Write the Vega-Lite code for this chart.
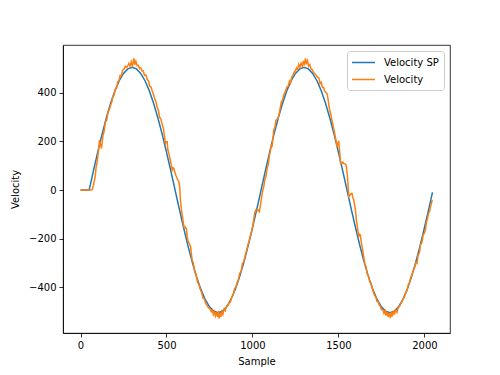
{
  "$schema": "https://vega.github.io/schema/vega-lite/v6.json",
  "width": 387,
  "height": 288,
  "autosize": {"type": "none"},
  "padding": {"left": 63, "top": 45, "right": 50, "bottom": 42},
  "background": "white",
  "config": {
    "font": "DejaVu Sans",
    "view": {"stroke": "black", "strokeWidth": 0.8},
    "axis": {
      "grid": false,
      "domainColor": "black",
      "domainWidth": 0.8,
      "tickColor": "black",
      "tickWidth": 0.8,
      "tickSize": 4,
      "labelFontSize": 10,
      "labelColor": "black",
      "labelPadding": 3,
      "titleFontSize": 10,
      "titleFontWeight": "normal",
      "titleColor": "black"
    },
    "axisX": {"titlePadding": 6},
    "axisY": {"titlePadding": 8},
    "legend": {
      "orient": "top-right",
      "offset": 6,
      "strokeColor": "#cccccc",
      "fillColor": "rgba(255,255,255,0.8)",
      "padding": 5,
      "cornerRadius": 3,
      "symbolType": "M-1.18,0L3,0",
      "symbolSize": 121,
      "symbolStrokeWidth": 1.5,
      "labelFontSize": 10,
      "labelColor": "black",
      "labelOffset": 19,
      "rowPadding": 5
    }
  },
  "datasets": {
    "sp": [
      {"n": 0, "v": 0}, {"n": 25, "v": 0}, {"n": 50, "v": 0},
      {"n": 75, "v": 79}, {"n": 100, "v": 156}, {"n": 125, "v": 229.3}, {"n": 150, "v": 296.8}, {"n": 175, "v": 357.1},
      {"n": 200, "v": 408.5}, {"n": 225, "v": 450}, {"n": 250, "v": 480.3}, {"n": 275, "v": 498.8}, {"n": 300, "v": 505},
      {"n": 325, "v": 498.8}, {"n": 350, "v": 480.3}, {"n": 375, "v": 450}, {"n": 400, "v": 408.5}, {"n": 425, "v": 357.1},
      {"n": 450, "v": 296.8}, {"n": 475, "v": 229.3}, {"n": 500, "v": 156}, {"n": 525, "v": 79}, {"n": 550, "v": 0},
      {"n": 575, "v": -79}, {"n": 600, "v": -156}, {"n": 625, "v": -229.3}, {"n": 650, "v": -296.8}, {"n": 675, "v": -357.1},
      {"n": 700, "v": -408.5}, {"n": 725, "v": -450}, {"n": 750, "v": -480.3}, {"n": 775, "v": -498.8}, {"n": 800, "v": -505},
      {"n": 825, "v": -498.8}, {"n": 850, "v": -480.3}, {"n": 875, "v": -450}, {"n": 900, "v": -408.5}, {"n": 925, "v": -357.1},
      {"n": 950, "v": -296.8}, {"n": 975, "v": -229.3}, {"n": 1000, "v": -156}, {"n": 1025, "v": -79}, {"n": 1050, "v": 0},
      {"n": 1075, "v": 79}, {"n": 1100, "v": 156}, {"n": 1125, "v": 229.3}, {"n": 1150, "v": 296.8}, {"n": 1175, "v": 357.1},
      {"n": 1200, "v": 408.5}, {"n": 1225, "v": 450}, {"n": 1250, "v": 480.3}, {"n": 1275, "v": 498.8}, {"n": 1300, "v": 505},
      {"n": 1325, "v": 498.8}, {"n": 1350, "v": 480.3}, {"n": 1375, "v": 450}, {"n": 1400, "v": 408.5}, {"n": 1425, "v": 357.1},
      {"n": 1450, "v": 296.8}, {"n": 1475, "v": 229.3}, {"n": 1500, "v": 156}, {"n": 1525, "v": 79}, {"n": 1550, "v": 0},
      {"n": 1575, "v": -79}, {"n": 1600, "v": -156}, {"n": 1625, "v": -229.3}, {"n": 1650, "v": -296.8}, {"n": 1675, "v": -357.1},
      {"n": 1700, "v": -408.5}, {"n": 1725, "v": -450}, {"n": 1750, "v": -480.3}, {"n": 1775, "v": -498.8}, {"n": 1800, "v": -505},
      {"n": 1825, "v": -498.8}, {"n": 1850, "v": -480.3}, {"n": 1875, "v": -450}, {"n": 1900, "v": -408.5}, {"n": 1925, "v": -357.1},
      {"n": 1950, "v": -296.8}, {"n": 1975, "v": -229.3}, {"n": 2000, "v": -156}, {"n": 2025, "v": -79}, {"n": 2047, "v": -9.5}
    ],
    "vel": [
      {"n": 0, "v": 0}, {"n": 20, "v": 0}, {"n": 40, "v": 0}, {"n": 60, "v": 0}, {"n": 68, "v": 2}, {"n": 75, "v": 20},
      {"n": 85, "v": 55}, {"n": 91, "v": 96}, {"n": 97, "v": 118}, {"n": 104, "v": 160}, {"n": 110, "v": 206}, {"n": 115, "v": 190}, {"n": 122, "v": 172},
      {"n": 130, "v": 222}, {"n": 138, "v": 245}, {"n": 145, "v": 282}, {"n": 152, "v": 286}, {"n": 160, "v": 322}, {"n": 167, "v": 330},
      {"n": 174, "v": 348}, {"n": 181, "v": 360}, {"n": 188, "v": 386}, {"n": 194, "v": 388}, {"n": 202, "v": 415}, {"n": 210, "v": 420},
      {"n": 216, "v": 445}, {"n": 223, "v": 448}, {"n": 230, "v": 472}, {"n": 238, "v": 470}, {"n": 245, "v": 494}, {"n": 252, "v": 496},
      {"n": 260, "v": 510}, {"n": 268, "v": 505}, {"n": 275, "v": 512}, {"n": 281, "v": 521}, {"n": 288, "v": 510}, {"n": 295, "v": 528},
      {"n": 302, "v": 508}, {"n": 310, "v": 542}, {"n": 316, "v": 516}, {"n": 322, "v": 530}, {"n": 329, "v": 512}, {"n": 336, "v": 514},
      {"n": 343, "v": 500}, {"n": 350, "v": 503}, {"n": 358, "v": 490}, {"n": 365, "v": 490}, {"n": 372, "v": 472}, {"n": 380, "v": 474},
      {"n": 388, "v": 455}, {"n": 395, "v": 450}, {"n": 402, "v": 428}, {"n": 410, "v": 424}, {"n": 417, "v": 408}, {"n": 424, "v": 394},
      {"n": 432, "v": 374}, {"n": 439, "v": 364}, {"n": 446, "v": 340}, {"n": 453, "v": 328}, {"n": 460, "v": 298}, {"n": 467, "v": 294},
      {"n": 475, "v": 270}, {"n": 483, "v": 250}, {"n": 488, "v": 222}, {"n": 494, "v": 192}, {"n": 499, "v": 199}, {"n": 504, "v": 199},
      {"n": 508, "v": 165}, {"n": 514, "v": 151}, {"n": 520, "v": 130}, {"n": 526, "v": 110}, {"n": 533, "v": 82}, {"n": 538, "v": 92},
      {"n": 543, "v": 89}, {"n": 550, "v": 70}, {"n": 556, "v": 58}, {"n": 562, "v": 48}, {"n": 567, "v": 40}, {"n": 572, "v": 34},
      {"n": 577, "v": 10}, {"n": 581, "v": -41}, {"n": 587, "v": -80}, {"n": 594, "v": -115}, {"n": 601, "v": -151}, {"n": 608, "v": -150},
      {"n": 612, "v": -158}, {"n": 616, "v": -158}, {"n": 620, "v": -190}, {"n": 624, "v": -206}, {"n": 632, "v": -220}, {"n": 640, "v": -233},
      {"n": 649, "v": -288}, {"n": 656, "v": -300}, {"n": 664, "v": -338}, {"n": 672, "v": -345}, {"n": 680, "v": -378}, {"n": 688, "v": -388},
      {"n": 696, "v": -408}, {"n": 704, "v": -420}, {"n": 712, "v": -444}, {"n": 720, "v": -448}, {"n": 728, "v": -466}, {"n": 736, "v": -474},
      {"n": 744, "v": -484}, {"n": 752, "v": -488}, {"n": 760, "v": -500}, {"n": 766, "v": -492}, {"n": 772, "v": -512}, {"n": 778, "v": -500},
      {"n": 784, "v": -518}, {"n": 790, "v": -503}, {"n": 796, "v": -522}, {"n": 802, "v": -498}, {"n": 806, "v": -528}, {"n": 810, "v": -505},
      {"n": 816, "v": -522}, {"n": 822, "v": -500}, {"n": 828, "v": -512}, {"n": 835, "v": -490}, {"n": 842, "v": -496}, {"n": 850, "v": -476},
      {"n": 858, "v": -474}, {"n": 866, "v": -462}, {"n": 872, "v": -460}, {"n": 880, "v": -438}, {"n": 888, "v": -432}, {"n": 896, "v": -406},
      {"n": 904, "v": -398}, {"n": 911, "v": -380}, {"n": 918, "v": -368}, {"n": 926, "v": -342}, {"n": 934, "v": -334}, {"n": 942, "v": -302},
      {"n": 950, "v": -294}, {"n": 959, "v": -265}, {"n": 966, "v": -248}, {"n": 974, "v": -224}, {"n": 981, "v": -208}, {"n": 988, "v": -188},
      {"n": 995, "v": -172}, {"n": 1002, "v": -146}, {"n": 1008, "v": -118}, {"n": 1014, "v": -90}, {"n": 1020, "v": -82}, {"n": 1027, "v": -85},
      {"n": 1033, "v": -82}, {"n": 1040, "v": -89}, {"n": 1047, "v": -60}, {"n": 1054, "v": -25}, {"n": 1060, "v": 0}, {"n": 1066, "v": 14},
      {"n": 1072, "v": 44}, {"n": 1078, "v": 56}, {"n": 1085, "v": 86}, {"n": 1092, "v": 106}, {"n": 1099, "v": 144}, {"n": 1105, "v": 162},
      {"n": 1111, "v": 190}, {"n": 1114, "v": 178}, {"n": 1118, "v": 205}, {"n": 1124, "v": 247}, {"n": 1130, "v": 256}, {"n": 1137, "v": 288},
      {"n": 1145, "v": 292}, {"n": 1153, "v": 305}, {"n": 1160, "v": 332}, {"n": 1168, "v": 362}, {"n": 1176, "v": 372}, {"n": 1184, "v": 394},
      {"n": 1192, "v": 406}, {"n": 1200, "v": 424}, {"n": 1208, "v": 428}, {"n": 1215, "v": 448}, {"n": 1221, "v": 440}, {"n": 1228, "v": 465},
      {"n": 1235, "v": 472}, {"n": 1242, "v": 484}, {"n": 1250, "v": 492}, {"n": 1256, "v": 503}, {"n": 1262, "v": 496}, {"n": 1269, "v": 517},
      {"n": 1276, "v": 506}, {"n": 1283, "v": 522}, {"n": 1290, "v": 510}, {"n": 1296, "v": 532}, {"n": 1302, "v": 513}, {"n": 1308, "v": 542},
      {"n": 1314, "v": 522}, {"n": 1320, "v": 532}, {"n": 1327, "v": 510}, {"n": 1334, "v": 517}, {"n": 1340, "v": 498}, {"n": 1347, "v": 496},
      {"n": 1354, "v": 486}, {"n": 1360, "v": 480}, {"n": 1367, "v": 476}, {"n": 1374, "v": 468}, {"n": 1380, "v": 464}, {"n": 1386, "v": 462},
      {"n": 1393, "v": 438}, {"n": 1400, "v": 444}, {"n": 1407, "v": 422}, {"n": 1414, "v": 422}, {"n": 1420, "v": 406}, {"n": 1427, "v": 402},
      {"n": 1434, "v": 396}, {"n": 1440, "v": 372}, {"n": 1447, "v": 336}, {"n": 1455, "v": 314}, {"n": 1463, "v": 286}, {"n": 1470, "v": 262},
      {"n": 1477, "v": 236}, {"n": 1485, "v": 208}, {"n": 1492, "v": 178}, {"n": 1497, "v": 195}, {"n": 1502, "v": 199}, {"n": 1507, "v": 160},
      {"n": 1512, "v": 110}, {"n": 1520, "v": 108}, {"n": 1526, "v": 115}, {"n": 1531, "v": 110}, {"n": 1538, "v": 108}, {"n": 1545, "v": 103},
      {"n": 1552, "v": 60}, {"n": 1556, "v": 20}, {"n": 1560, "v": -27}, {"n": 1568, "v": -20}, {"n": 1575, "v": -14}, {"n": 1579, "v": -14},
      {"n": 1584, "v": -30}, {"n": 1589, "v": -41}, {"n": 1594, "v": -60}, {"n": 1599, "v": -82}, {"n": 1604, "v": -120}, {"n": 1610, "v": -150},
      {"n": 1618, "v": -192}, {"n": 1623, "v": -182}, {"n": 1628, "v": -185}, {"n": 1632, "v": -210}, {"n": 1637, "v": -233}, {"n": 1642, "v": -250},
      {"n": 1647, "v": -274}, {"n": 1654, "v": -304}, {"n": 1661, "v": -316}, {"n": 1668, "v": -348}, {"n": 1675, "v": -352}, {"n": 1682, "v": -378},
      {"n": 1689, "v": -382}, {"n": 1696, "v": -400}, {"n": 1703, "v": -418}, {"n": 1710, "v": -434}, {"n": 1717, "v": -438}, {"n": 1724, "v": -458},
      {"n": 1731, "v": -460}, {"n": 1738, "v": -474}, {"n": 1744, "v": -478}, {"n": 1751, "v": -492}, {"n": 1758, "v": -492}, {"n": 1765, "v": -507},
      {"n": 1771, "v": -496}, {"n": 1777, "v": -516}, {"n": 1783, "v": -500}, {"n": 1789, "v": -522}, {"n": 1795, "v": -504}, {"n": 1802, "v": -527},
      {"n": 1808, "v": -502}, {"n": 1814, "v": -520}, {"n": 1820, "v": -496}, {"n": 1826, "v": -512}, {"n": 1832, "v": -494}, {"n": 1841, "v": -503},
      {"n": 1848, "v": -482}, {"n": 1855, "v": -480}, {"n": 1862, "v": -468}, {"n": 1870, "v": -458}, {"n": 1878, "v": -446}, {"n": 1885, "v": -438},
      {"n": 1892, "v": -420}, {"n": 1899, "v": -414}, {"n": 1906, "v": -390}, {"n": 1913, "v": -382}, {"n": 1920, "v": -360}, {"n": 1928, "v": -348},
      {"n": 1935, "v": -330}, {"n": 1942, "v": -322}, {"n": 1950, "v": -300}, {"n": 1957, "v": -302}, {"n": 1964, "v": -266}, {"n": 1971, "v": -258},
      {"n": 1978, "v": -222}, {"n": 1985, "v": -218}, {"n": 1992, "v": -186}, {"n": 1999, "v": -178}, {"n": 2006, "v": -165}, {"n": 2012, "v": -132},
      {"n": 2018, "v": -118}, {"n": 2024, "v": -96}, {"n": 2030, "v": -88}, {"n": 2036, "v": -66}, {"n": 2040, "v": -58}, {"n": 2044, "v": -44},
      {"n": 2047, "v": -40}
    ]
  },
  "encoding": {
    "x": {
      "field": "n",
      "type": "quantitative",
      "scale": {"domain": [-102, 2149], "nice": false, "zero": false},
      "axis": {"values": [0, 500, 1000, 1500, 2000], "title": "Sample", "format": "d"}
    },
    "y": {
      "field": "v",
      "type": "quantitative",
      "scale": {"domain": [-588, 597], "nice": false, "zero": false},
      "axis": {"values": [-400, -200, 0, 200, 400], "title": "Velocity", "format": "d"}
    }
  },
  "layer": [
    {
      "data": {"name": "sp"},
      "mark": {"type": "line", "strokeWidth": 1.5},
      "encoding": {
        "color": {
          "datum": "Velocity SP",
          "type": "nominal",
          "scale": {"domain": ["Velocity SP", "Velocity"], "range": ["#1f77b4", "#ff7f0e"]},
          "legend": {"title": null}
        }
      }
    },
    {
      "data": {"name": "vel"},
      "mark": {"type": "line", "strokeWidth": 1.5},
      "encoding": {
        "color": {"datum": "Velocity", "type": "nominal"}
      }
    }
  ]
}
